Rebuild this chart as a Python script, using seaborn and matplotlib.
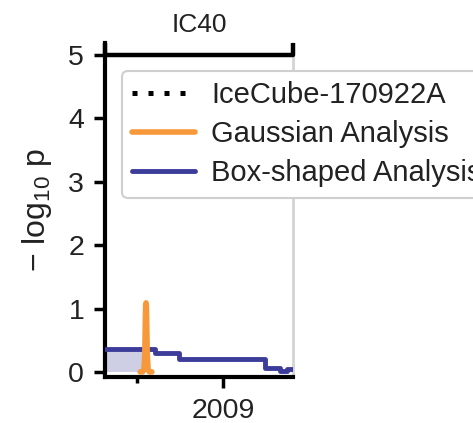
import matplotlib
matplotlib.use("Agg")
import matplotlib.pyplot as plt
import matplotlib.ticker as mticker
import pandas as pd
import seaborn as sns

# IC40 season bounds (decimal years)
season_name = "IC40"
season_start = 2008.314
season_end = 2009.405

# Alert time of IceCube-170922A (decimal years)
alert_time = 2017.724

# Gaussian time-dependent analysis: -log10 p around the best-fit flare
gauss_t = [2008.518, 2008.532, 2008.540, 2008.545, 2008.548, 2008.550,
           2008.552, 2008.554, 2008.556, 2008.559, 2008.564, 2008.572, 2008.586]
gauss_ts = [0.0, 0.0, 0.04, 0.30, 0.80, 1.05,
            1.09, 1.05, 0.80, 0.30, 0.04, 0.0, 0.0]

# Box-shaped time-dependent analysis: step values and their start times
box_t = [2008.314, 2008.605, 2008.745, 2009.244, 2009.330, 2009.370, 2009.405]
box_ts = [0.36, 0.30, 0.20, 0.06, 0.02, 0.05, 0.05]

# Best box window shaded under the step curve
box_window = [2008.314, 2008.552]
box_window_ts = 0.36

orange = "#f7993a"
navy = "#3c3c9a"
ink = "#222222"

sns.set_style("ticks")
plt.rcParams["font.family"] = ["Liberation Sans", "DejaVu Sans"]
plt.rcParams["mathtext.default"] = "regular"

fig = plt.figure(figsize=(4.73, 4.23), dpi=100)
ax = fig.add_axes([105 / 473, 1 - 377 / 423, 188 / 473, 334 / 423])

gauss_df = pd.DataFrame({"t": gauss_t, "ts": gauss_ts})
box_df = pd.DataFrame({"t": box_t, "ts": box_ts})

ax.fill_between(box_window, [0, 0], [box_window_ts, box_window_ts],
                color=navy, alpha=0.25, lw=0, zorder=1)
sns.lineplot(data=box_df, x="t", y="ts", ax=ax, color=navy, lw=3.5,
             drawstyle="steps-post", label="Box-shaped Analysis", zorder=3,
             legend=False)
sns.lineplot(data=gauss_df, x="t", y="ts", ax=ax, color=orange, lw=4.0,
             label="Gaussian Analysis", zorder=4, legend=False,
             solid_capstyle="round", solid_joinstyle="round")
ax.axvline(alert_time, color="black", lw=3.6, ls=(0, (1, 2.2)),
           label="IceCube-170922A")

# season bracket along the top
ax.plot([season_start, season_start, season_end, season_end],
        [5.19, 5.0, 5.0, 5.19], color="black", lw=3.2,
        solid_capstyle="butt", clip_on=False, zorder=5)
# boundary to the next season
ax.axvline(season_end, color="#d4d4d4", lw=2.0, zorder=0, clip_on=False)

ax.set_xlim(season_start, season_end)
ax.set_ylim(-0.08, 5.19)
ax.set_yticks([0, 1, 2, 3, 4, 5])
ax.set_xticks([2009])
ax.set_xticklabels(["2009"])
ax.xaxis.set_minor_locator(mticker.FixedLocator([2008.5]))

for side in ["top", "right"]:
    ax.spines[side].set_visible(False)
for side in ["left", "bottom"]:
    ax.spines[side].set_linewidth(3.0)
    ax.spines[side].set_color("black")

ax.tick_params(axis="both", which="major", length=8, width=2.5,
               labelsize=20.5, pad=7, color="black", labelcolor=ink)
ax.tick_params(axis="x", which="minor", length=4, width=2.5, color="black")

ax.set_xlabel("")
ax.set_ylabel("− log$_{10}$ p", fontsize=23, labelpad=10, color=ink)
ax.set_title(season_name, fontsize=19, pad=8, color=ink)

handles, labels = ax.get_legend_handles_labels()
order = ["IceCube-170922A", "Gaussian Analysis", "Box-shaped Analysis"]
hmap = dict(zip(labels, handles))
leg = fig.legend([hmap[k] for k in order], order, loc="upper left",
                 bbox_to_anchor=(122 / 473, 1 - 71 / 423), borderaxespad=0,
                 fontsize=21, handlelength=2.15, handletextpad=0.55,
                 labelspacing=0.38, frameon=True, fancybox=True,
                 borderpad=0.35)
leg.get_frame().set_edgecolor("#cfcfcf")
leg.get_frame().set_linewidth(1.5)
leg.get_frame().set_alpha(1.0)
for t in leg.get_texts():
    t.set_color(ink)

fig.savefig("out.png", dpi=100)
